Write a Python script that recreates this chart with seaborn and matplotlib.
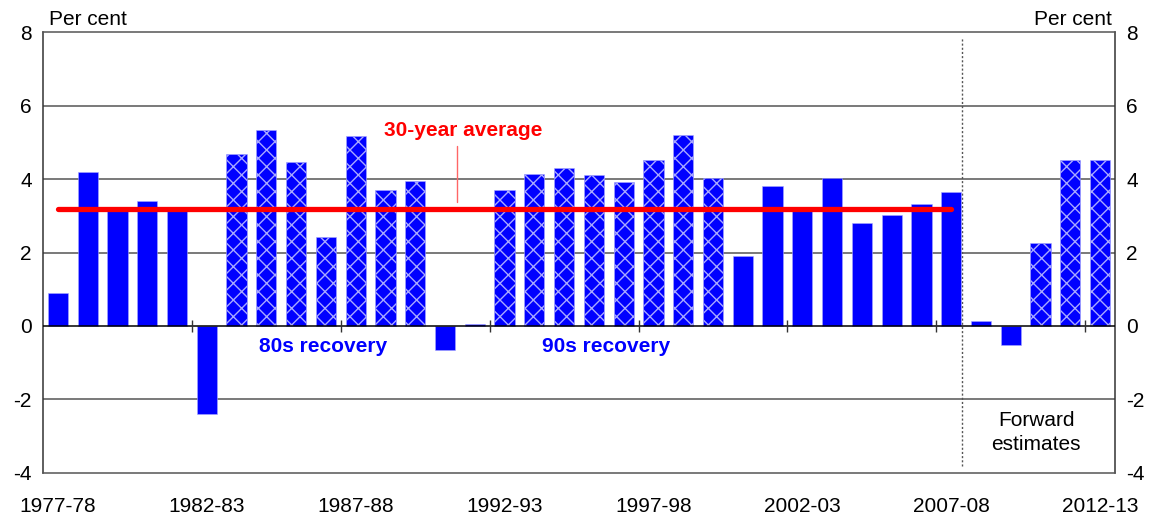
import numpy as np
import pandas as pd
import seaborn as sns
from matplotlib import pyplot as plt

# %%
# Data
years = [f"{y}-{str(y + 1)[-2:]}" for y in range(1977, 2013)]
growth = [0.90, 4.20, 3.13, 3.39, 3.13, -2.40, 4.68, 5.34, 4.46, 2.42,
          5.17, 3.70, 3.95, -0.66, 0.05, 3.70, 4.14, 4.30, 4.11, 3.92,
          4.52, 5.21, 4.02, 1.91, 3.81, 3.15, 4.02, 2.81, 3.01, 3.32,
          3.64, 0.13, -0.51, 2.26, 4.51, 4.51]
recovery = ([False] * 6 + [True] * 7 + [False] * 2 + [True] * 8
            + [False] * 10 + [True] * 3)
avg_30yr = 3.18
shown_labels = ["1977-78", "1982-83", "1987-88", "1992-93", "1997-98",
                "2002-03", "2007-08", "2012-13"]

df = pd.DataFrame({"year": years, "growth": growth, "recovery": recovery})

# %%
sns.set_style("white")
plt.rcParams["font.family"] = ["Liberation Sans", "DejaVu Sans"]
plt.rcParams["hatch.linewidth"] = 1.0
plt.rcParams["axes.unicode_minus"] = False
plt.rcParams["text.color"] = "black"
plt.rcParams["xtick.color"] = "black"
plt.rcParams["ytick.color"] = "black"

BLUE = "#0000ff"
RED = "#ff0000"
FS = 15

fig = plt.figure(figsize=(11.55, 5.14), dpi=100)
ax = fig.add_axes([0.0372, 0.0798, 0.9282, 0.8579])

sns.barplot(data=df, x="year", y="growth", color=BLUE, saturation=1,
            width=0.68, ax=ax, zorder=3)
for patch, hatched in zip(ax.patches, df["recovery"]):
    patch.set_edgecolor("#a8a8ff")
    patch.set_linewidth(0.4)
    if hatched:
        patch.set_hatch("xx")

ax.set_xlim(-0.5, len(years) - 0.5)
ax.set_ylim(-4, 8)
ax.set_yticks(range(-4, 9, 2))
ax.set_xlabel("")
ax.set_ylabel("")

# gridlines
for yv in [-2, 2, 4, 6]:
    ax.axhline(yv, color="#555555", linewidth=1.1, zorder=1)
ax.axhline(0, color="black", linewidth=1.1, zorder=4)

# x ticks: labels under bar centres, marks at category boundaries
idx = [years.index(l) for l in shown_labels]
ax.set_xticks(idx)
ax.set_xticklabels(shown_labels)
ax.tick_params(axis="x", length=0, labelsize=FS, pad=17)
ax.tick_params(axis="y", length=0, labelsize=FS, labelright=True,
               labelleft=True, pad=8)
bounds = [i - 0.5 for i in idx[1:]]
ax.vlines(bounds, -0.16, 0.16, color="#333333", linewidth=1, zorder=5)

for side in ["left", "right"]:
    ax.spines[side].set_color("#333333")
    ax.spines[side].set_linewidth(1.1)
for side in ["top", "bottom"]:
    ax.spines[side].set_color("#555555")
    ax.spines[side].set_linewidth(1.1)

# 30-year average line
ax.plot([0, 30], [avg_30yr, avg_30yr], color=RED, linewidth=3.8,
        solid_capstyle="round", zorder=6)
ax.plot([13.4, 13.4], [3.37, 4.9], color="#ff6666", linewidth=1.0, zorder=6)
ax.text(13.6, 5.32, "30-year average", color=RED, fontsize=FS,
        fontweight="bold", ha="center", va="center")

ax.text(8.9, -0.57, "80s recovery", color=BLUE, fontsize=FS,
        fontweight="bold", ha="center", va="center")
ax.text(18.4, -0.57, "90s recovery", color=BLUE, fontsize=FS,
        fontweight="bold", ha="center", va="center")

# forward estimates divider
ax.plot([30.36, 30.36], [-3.8, 7.85], color="#555555", linewidth=1,
        linestyle=(0, (1.5, 1.5)), zorder=2)
ax.text(32.85, -2.9, "Forward\nestimates", fontsize=FS, ha="center",
        va="center", linespacing=1.3)

ax.text(0.006, 1.006, "Per cent", transform=ax.transAxes, fontsize=FS,
        ha="left", va="bottom")
ax.text(0.997, 1.006, "Per cent", transform=ax.transAxes, fontsize=FS,
        ha="right", va="bottom")

fig.savefig("out.png", dpi=100)
